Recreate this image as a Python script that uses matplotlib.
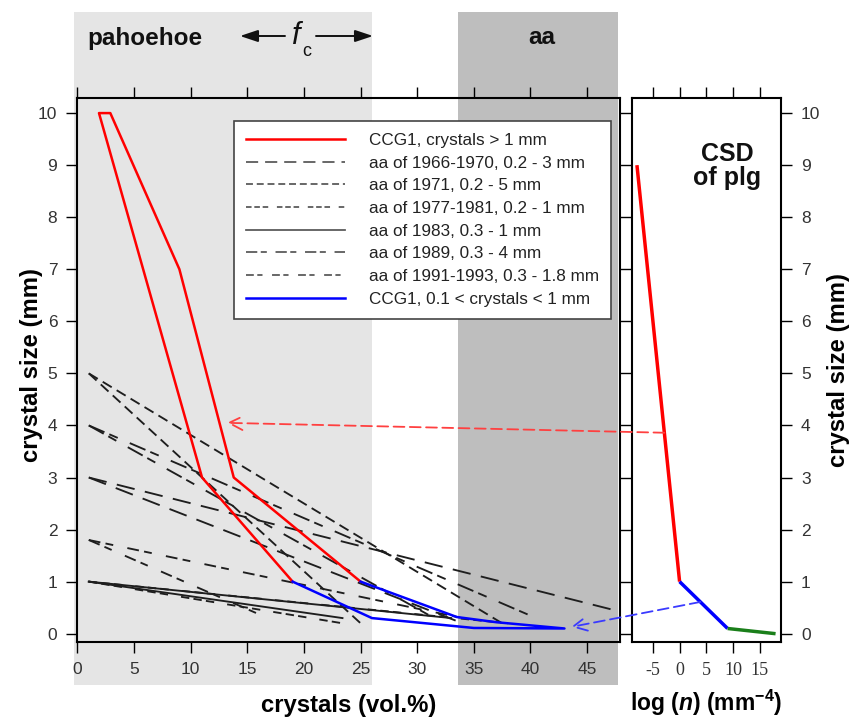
import matplotlib
matplotlib.use('Agg')
import matplotlib.pyplot as plt
from matplotlib.patches import Rectangle, ConnectionPatch
from matplotlib.lines import Line2D
from matplotlib.transforms import blended_transform_factory

plt.rcParams['font.family'] = 'Liberation Sans'
plt.rcParams['axes.unicode_minus'] = False
plt.rcParams['mathtext.fontset'] = 'custom'
plt.rcParams['mathtext.rm'] = 'Liberation Sans:bold'
plt.rcParams['mathtext.it'] = 'Liberation Sans:bold:italic'
plt.rcParams['mathtext.bf'] = 'Liberation Sans:bold'

# ---- data ----
# CCG1, crystals > 1 mm (outline of the field)
ccg1_big_x = [19, 11, 1.9, 2.9, 9, 13.8, 25]
ccg1_big_y = [1, 3, 10, 10, 7, 3, 1]
# CCG1, 0.1 < crystals < 1 mm
ccg1_small_x = [19, 26, 35, 43, 37, 33.5, 25]
ccg1_small_y = [1, 0.3, 0.11, 0.1, 0.22, 0.32, 1]

aa_labels = ['aa of 1966-1970, 0.2 - 3 mm',
             'aa of 1971, 0.2 - 5 mm',
             'aa of 1977-1981, 0.2 - 1 mm',
             'aa of 1983, 0.3 - 1 mm',
             'aa of 1989, 0.3 - 4 mm',
             'aa of 1991-1993, 0.3 - 1.8 mm']
aa_max_size = [3, 5, 1, 1, 4, 1.8]
aa_min_size = [0.2, 0.2, 0.2, 0.3, 0.3, 0.3]
aa_start_x = [1, 1, 1, 1, 1, 1]
aa_end_x = [[34, 52], [25, 37.5], [23.4, 38], [23.4, 33], [31.5, 40.5], [16.8, 34]]

# CSD of plagioclase
csd_logn = [-8, 0, 9, 18]
csd_size = [9, 1, 0.1, 0]

pahoehoe_band = (-0.33, 26.0)
aa_band = (33.6, 47.7)

red_link_csd, red_link_main = (-2.86, 3.86), (13.2, 4.05)
blue_link_csd, blue_link_main = (3.9, 0.61), (43.6, 0.13)

# ---- styles ----
aa_dashes = [(7, 4), (4, 2.2), (3.2, 1.6, 3.2, 1.6, 3.2, 5), None, (6.5, 2, 3.5, 5), (4.5, 2, 3, 5.5)]
csd_colors = ['#ff0000', '#0000ff', '#1a7f1a']
tick_col = '#333333'

fig = plt.figure(figsize=(8.57, 7.2), dpi=100)
ax = fig.add_axes([0.0904, 0.1083, 0.633, 0.7556])
ax2 = fig.add_axes([0.737, 0.1083, 0.1742, 0.7556])
ax.set_facecolor('none')

trans = blended_transform_factory(ax.transData, fig.transFigure)
ax.add_patch(Rectangle((pahoehoe_band[0], 0.049), pahoehoe_band[1] - pahoehoe_band[0], 0.934,
                       transform=trans, facecolor='#e5e5e5', lw=0, clip_on=False, zorder=0))
ax.add_patch(Rectangle((aa_band[0], 0.049), aa_band[1] - aa_band[0], 0.934,
                       transform=trans, facecolor='#bebebe', lw=0, clip_on=False, zorder=0))

handles = [Line2D([], [], color='red', lw=1.8)]
for i in range(len(aa_labels)):
    kw = dict(color='#1e1e1e', lw=1.35)
    hk = dict(color='#555555', lw=1.25)
    if aa_dashes[i] is None:
        kw['ls'] = '-'
        hk['ls'] = '-'
    else:
        # dashes in the plot are drawn longer than in the legend sample
        kw['dashes'] = [d * 1.4 for d in aa_dashes[i]]
        hk['dashes'] = aa_dashes[i]
    for ex in aa_end_x[i]:
        ax.plot([aa_start_x[i], ex], [aa_max_size[i], aa_min_size[i]], **kw)
    handles.append(Line2D([], [], **hk))
handles.append(Line2D([], [], color='blue', lw=1.8))

ax.plot(ccg1_big_x, ccg1_big_y, color='red', lw=1.8, zorder=3)
ax.plot(ccg1_small_x, ccg1_small_y, color='blue', lw=1.8, zorder=3)

ax.set_xlim(0, 47.9)
ax.set_ylim(-0.16, 10.29)
ax.set_xticks(range(0, 50, 5))
ax.set_yticks(range(0, 11))
ax.tick_params(direction='out', length=8, width=1, top=True, right=True, pad=6.5,
               labelsize=12.5, labelcolor=tick_col)
for s in ax.spines.values():
    s.set_linewidth(1.5)
ax.set_xlabel('crystals (vol.%)', fontsize=17.2, fontweight='bold', labelpad=12)
ax.set_ylabel('crystal size (mm)', fontsize=17.2, fontweight='bold')
ax.yaxis.set_label_coords(-0.064, 0.51)

labels = ['CCG1, crystals > 1 mm'] + aa_labels + ['CCG1, 0.1 < crystals < 1 mm']
leg = ax.legend(handles, labels, loc='upper left', bbox_to_anchor=(0.2885, 0.9577),
                borderaxespad=0, frameon=True, fancybox=False, edgecolor='#444444',
                fontsize=12.3, handlelength=5.8, handletextpad=1.4, labelspacing=0.45,
                borderpad=0.7, framealpha=1)
leg.get_frame().set_linewidth(1.2)
for t in leg.get_texts():
    t.set_color('#222222')

# right panel: CSD
for i in range(3):
    ax2.plot(csd_logn[i:i + 2], csd_size[i:i + 2], color=csd_colors[i], lw=2.5,
             solid_capstyle='butt')
ax2.set_xlim(-9, 19)
ax2.set_ylim(-0.16, 10.29)
ax2.set_xticks([-5, 0, 5, 10, 15])
ax2.set_yticks(range(0, 11))
ax2.tick_params(direction='out', length=8, width=1, top=True, pad=6.5, labelsize=12.5,
                labelcolor=tick_col)
ax2.tick_params(axis='y', left=False, right=True, labelleft=False, labelright=True)
for lbl in ax2.get_xticklabels():
    lbl.set_family('Liberation Serif')
    lbl.set_fontsize(13)
for s in ax2.spines.values():
    s.set_linewidth(1.5)
ax2.yaxis.set_label_position('right')
ax2.set_ylabel('crystal size (mm)', fontsize=17.2, fontweight='bold', labelpad=5)
ax2.set_xlabel(r'log ($n$) (mm$^{-4}$)', fontsize=16.5, fontweight='bold', labelpad=6)

# links between panels
for a, b, col in [(red_link_csd, red_link_main, '#ff4040'),
                  (blue_link_csd, blue_link_main, '#3a3aff')]:
    cp = ConnectionPatch(xyA=a, coordsA=ax2.transData, xyB=b, coordsB=ax.transData,
                         arrowstyle='->,head_length=0.7,head_width=0.35', color=col,
                         lw=1.3, linestyle=(0, (6, 3)), mutation_scale=14, zorder=5)
    fig.add_artist(cp)

# header texts
fig.text(145 / 857, 1 - 38 / 720, 'pahoehoe', ha='center', va='center',
         fontsize=17.5, fontweight='bold', color='#111111')
fig.text(542 / 857, 1 - 38 / 720, 'aa', ha='center', va='center',
         fontsize=17.5, fontweight='bold', color='#111111')
fig.text(296 / 857, 1 - 36 / 720, 'f', ha='center', va='center', fontsize=22,
         style='italic', color='#111111')
fig.text(307 / 857, 1 - 51 / 720, 'c', ha='center', va='center', fontsize=13,
         color='#111111')
for x0, x1 in [(285, 240), (316, 373)]:
    ax.annotate('', xy=(x1, 720 - 36), xytext=(x0, 720 - 36), xycoords='figure pixels',
                textcoords='figure pixels', annotation_clip=False,
                arrowprops=dict(arrowstyle='-|>,head_length=0.6,head_width=0.2',
                                color='#111111', lw=1.4, mutation_scale=18,
                                shrinkA=0, shrinkB=0))

fig.text(727 / 857, 1 - 166 / 720, 'CSD\nof plg', ha='center', va='center',
         fontsize=18, fontweight='bold', linespacing=0.95, color='#111111')

fig.savefig('out.png', dpi=100)
